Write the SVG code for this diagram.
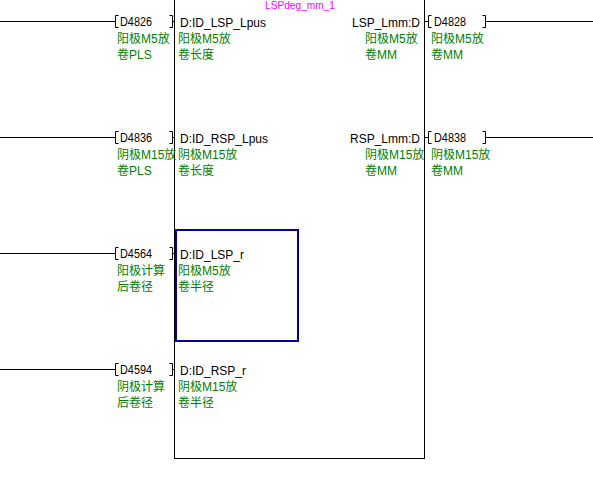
<svg xmlns="http://www.w3.org/2000/svg" width="593" height="480" viewBox="0 0 593 480">
<style>
.bg{fill:#ffffff}
.ln{fill:none;stroke:#000000;stroke-width:1}
.blk{fill:#ffffff;stroke:#000000;stroke-width:1}
.sel{fill:none;stroke:#00009c;stroke-width:2}
.t{font-family:"Liberation Sans","Noto Sans CJK SC",sans-serif;font-size:12px;fill:#000000}
.g{font-family:"Liberation Sans","Noto Sans CJK SC",sans-serif;font-size:12px;fill:#008000}
.m{font-family:"Liberation Sans",sans-serif;font-size:10.5px;fill:#ff00ff}
.e{text-anchor:end}
</style>
<rect class="bg" x="0" y="0" width="593" height="480"/>
<g id="connectors">
<path class="ln" d="M0,21.5H115.5 M172.5,21.5H174.5 M424.5,21.5H428.5 M485.5,21.5H593"/>
<path class="ln" d="M0,137.5H115.5 M172.5,137.5H174.5 M424.5,137.5H428.5 M485.5,137.5H593"/>
<path class="ln" d="M0,253.5H115.5 M172.5,253.5H174.5"/>
<path class="ln" d="M0,369.5H115.5 M172.5,369.5H174.5"/>
</g>
<g id="fb_LSPdeg_mm_1">
<rect class="blk" x="174.5" y="-10" width="250" height="468.5"/>
<text class="m" x="265" y="8.5" textLength="70" lengthAdjust="spacingAndGlyphs">LSPdeg_mm_1</text>
<text class="t" x="180" y="26.5" textLength="86" lengthAdjust="spacingAndGlyphs">D:ID_LSP_Lpus</text>
<text class="g" x="178" y="42.5">阳极M5放</text>
<text class="g" x="178" y="58.5">卷长度</text>
<text class="t e" x="420" y="26.5">LSP_Lmm:D</text>
<text class="g" x="365" y="42.5">阳极M5放</text>
<text class="g" x="365" y="58.5">卷MM</text>
<text class="t" x="180" y="142.5" textLength="88" lengthAdjust="spacingAndGlyphs">D:ID_RSP_Lpus</text>
<text class="g" x="178" y="158.5">阴极M15放</text>
<text class="g" x="178" y="174.5">卷长度</text>
<text class="t e" x="420" y="142.5">RSP_Lmm:D</text>
<text class="g" x="365" y="158.5">阴极M15放</text>
<text class="g" x="365" y="174.5">卷MM</text>
<text class="t" x="180" y="258.5">D:ID_LSP_r</text>
<text class="g" x="178" y="274.5">阳极M5放</text>
<text class="g" x="178" y="290.5">卷半径</text>
<text class="t" x="180" y="374.5">D:ID_RSP_r</text>
<text class="g" x="178" y="390.5">阴极M15放</text>
<text class="g" x="178" y="406.5">卷半径</text>
<rect class="sel" x="176" y="230" width="122" height="111"/>
</g>
<g id="in_D4826">
<path class="ln" d="M118.5,15.5H115.5V27.5H118.5 M169.5,15.5H172.5V27.5H169.5"/>
<text class="t" x="120" y="26" textLength="32" lengthAdjust="spacingAndGlyphs">D4826</text>
<text class="g" x="117" y="42.5">阳极M5放</text>
<text class="g" x="117" y="58.5">卷PLS</text>
</g>
<g id="in_D4836">
<path class="ln" d="M118.5,131.5H115.5V143.5H118.5 M169.5,131.5H172.5V143.5H169.5"/>
<text class="t" x="120" y="142" textLength="32" lengthAdjust="spacingAndGlyphs">D4836</text>
<text class="g" x="117" y="158.5">阴极M15放</text>
<text class="g" x="117" y="174.5">卷PLS</text>
</g>
<g id="in_D4564">
<path class="ln" d="M118.5,247.5H115.5V259.5H118.5 M169.5,247.5H172.5V259.5H169.5"/>
<text class="t" x="120" y="258" textLength="32" lengthAdjust="spacingAndGlyphs">D4564</text>
<text class="g" x="117" y="274.5">阳极计算</text>
<text class="g" x="117" y="290.5">后卷径</text>
</g>
<g id="in_D4594">
<path class="ln" d="M118.5,363.5H115.5V375.5H118.5 M169.5,363.5H172.5V375.5H169.5"/>
<text class="t" x="120" y="374" textLength="32" lengthAdjust="spacingAndGlyphs">D4594</text>
<text class="g" x="117" y="390.5">阴极计算</text>
<text class="g" x="117" y="406.5">后卷径</text>
</g>
<g id="out_D4828">
<path class="ln" d="M431.5,15.5H428.5V27.5H431.5 M482.5,15.5H485.5V27.5H482.5"/>
<text class="t" x="434" y="26" textLength="32" lengthAdjust="spacingAndGlyphs">D4828</text>
<text class="g" x="431" y="42.5">阳极M5放</text>
<text class="g" x="431" y="58.5">卷MM</text>
</g>
<g id="out_D4838">
<path class="ln" d="M431.5,131.5H428.5V143.5H431.5 M482.5,131.5H485.5V143.5H482.5"/>
<text class="t" x="434" y="142" textLength="32" lengthAdjust="spacingAndGlyphs">D4838</text>
<text class="g" x="431" y="158.5">阴极M15放</text>
<text class="g" x="431" y="174.5">卷MM</text>
</g>
</svg>
